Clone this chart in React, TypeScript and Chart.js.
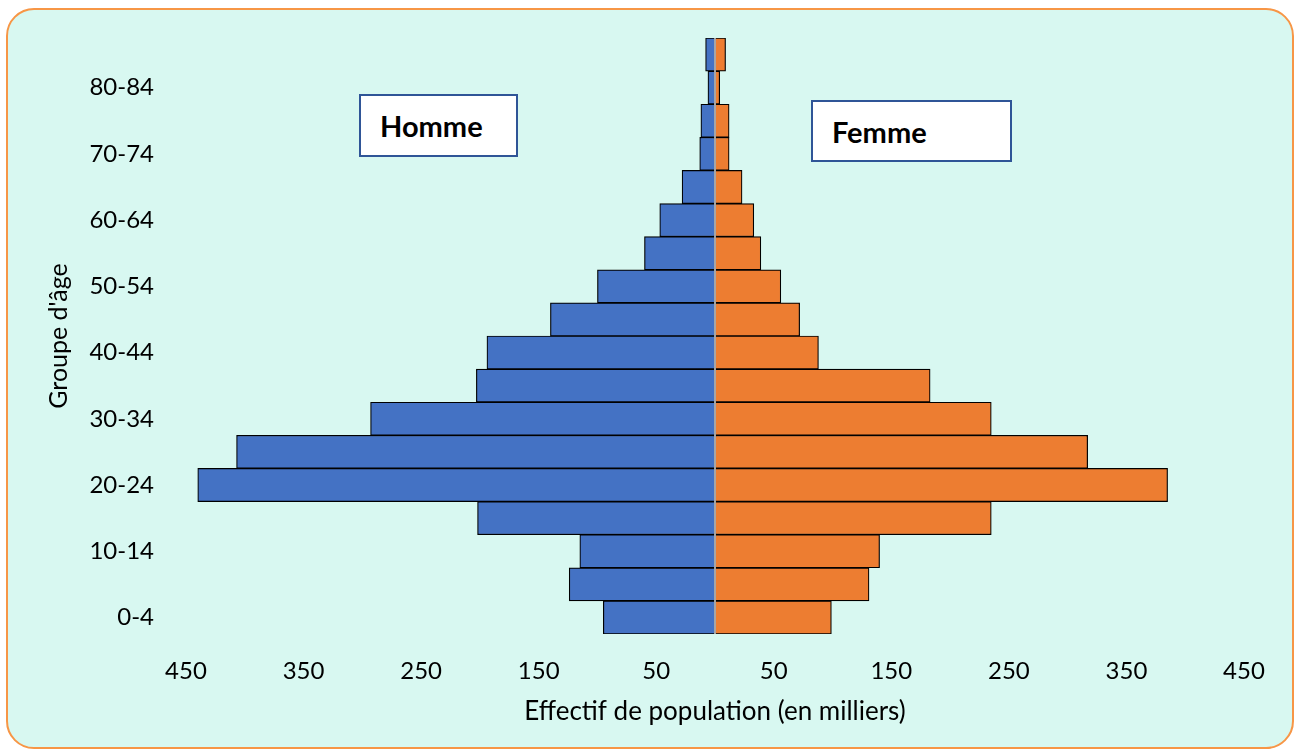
import React, { useEffect, useRef } from "react";
import { Chart, registerables } from "chart.js";

Chart.register(...registerables);

const ageGroups = [
  "0-4", "5-9", "10-14", "15-19", "20-24", "25-29", "30-34", "35-39", "40-44",
  "45-49", "50-54", "55-59", "60-64", "65-69", "70-74", "75-79", "80-84", "85+",
];
const hommeValues = [95, 124, 115, 202, 440, 407, 293, 203, 194, 140, 100, 60, 47, 28, 13, 12, 6, 8];
const femmeValues = [99, 131, 140, 235, 385, 317, 235, 183, 88, 72, 56, 39, 33, 23, 12, 12, 4, 9];
const xTickValues = [-450, -350, -250, -150, -50, 50, 150, 250, 350, 450];
const seriesNames = ["Homme", "Femme"];
const xTitle = "Effectif de population (en milliers)";
const yTitle = "Groupe d'âge";

const FONT = "Lato, 'Open Sans', sans-serif";

const centerLinePlugin = {
  id: "centerLine",
  afterDatasetsDraw(chart: any) {
    const { ctx, chartArea, scales } = chart;
    const x = scales.x.getPixelForValue(0);
    ctx.save();
    ctx.strokeStyle = "#d9d9d9";
    ctx.lineWidth = 1.5;
    ctx.beginPath();
    ctx.moveTo(x, chartArea.top);
    ctx.lineTo(x, chartArea.bottom);
    ctx.stroke();
    ctx.restore();
  },
};

export default function App() {
  const canvasRef = useRef<HTMLCanvasElement | null>(null);

  useEffect(() => {
    if (!canvasRef.current) return;
    const chart = new Chart(canvasRef.current, {
      type: "bar",
      data: {
        labels: ageGroups,
        datasets: [
          {
            label: seriesNames[0],
            data: hommeValues.map((v) => -v),
            backgroundColor: "#4472c4",
            borderColor: "#000000",
            borderWidth: 1.2,
            borderSkipped: false,
            barPercentage: 1,
            categoryPercentage: 1,
          },
          {
            label: seriesNames[1],
            data: femmeValues,
            backgroundColor: "#ed7d31",
            borderColor: "#000000",
            borderWidth: 1.2,
            borderSkipped: false,
            barPercentage: 1,
            categoryPercentage: 1,
          },
        ],
      },
      options: {
        indexAxis: "y",
        animation: false,
        responsive: false,
        devicePixelRatio: 1,
        layout: { padding: { top: 38, right: 56, left: 0, bottom: 0 } },
        plugins: {
          legend: { display: false },
          tooltip: { enabled: false },
        },
        scales: {
          x: {
            type: "linear",
            stacked: true,
            min: -450,
            max: 450,
            grid: { display: false, drawTicks: false },
            border: { display: false },
            afterBuildTicks: (scale: any) => {
              scale.ticks = xTickValues.map((v) => ({ value: v }));
            },
            afterFit: (scale: any) => {
              scale.height = 122;
              scale.paddingLeft = 0;
              scale.paddingRight = 0;
            },
            ticks: {
              autoSkip: false,
              maxRotation: 0,
              padding: 23,
              color: "#000000",
              font: { family: FONT, size: 24 },
              callback: (value: any) => String(Math.abs(Number(value))),
            },
            title: {
              display: true,
              text: xTitle,
              color: "#000000",
              font: { family: FONT, size: 26 },
              padding: { top: 0, bottom: 29 },
            },
          },
          y: {
            type: "category",
            stacked: true,
            reverse: true,
            grid: { display: false, drawTicks: false },
            border: { display: false },
            afterFit: (scale: any) => {
              scale.width = 186;
              scale.paddingTop = 0;
              scale.paddingBottom = 0;
            },
            ticks: {
              autoSkip: false,
              padding: 32,
              color: "#000000",
              font: { family: FONT, size: 24 },
              callback: (_v: any, i: number) => (i % 2 === 0 ? ageGroups[i] : ""),
            },
            title: {
              display: true,
              text: yTitle,
              color: "#000000",
              font: { family: FONT, size: 25 },
              padding: { top: 44, bottom: 0 },
            },
          },
        },
      },
      plugins: [centerLinePlugin],
    } as any);
    return () => chart.destroy();
  }, []);

  const boxStyle = (left: number, top: number, width: number, height: number): React.CSSProperties => ({
    position: "absolute",
    left,
    top,
    width,
    height,
    boxSizing: "border-box",
    background: "#ffffff",
    border: "2px solid #2f5597",
    fontFamily: FONT,
    fontWeight: 700,
    fontSize: 29,
    color: "#000000",
    display: "flex",
    alignItems: "center",
  });

  return (
    <div style={{ position: "fixed", left: 0, top: 0, width: 1300, height: 756, background: "#ffffff", overflow: "hidden" }}>
      <div
        style={{
          position: "absolute",
          left: 6,
          top: 8,
          width: 1288,
          height: 741,
          boxSizing: "border-box",
          border: "2.5px solid #f79646",
          borderRadius: 28,
          background: "#d8f8f1",
        }}
      />
      <canvas
        ref={canvasRef}
        width={1300}
        height={756}
        style={{ position: "absolute", left: 0, top: 0, width: 1300, height: 756 }}
      />
      <div style={{ ...boxStyle(359, 94, 159, 63), paddingLeft: 19 }}>{seriesNames[0]}</div>
      <div style={{ ...boxStyle(811, 100, 201, 62), paddingLeft: 19 }}>{seriesNames[1]}</div>
    </div>
  );
}
